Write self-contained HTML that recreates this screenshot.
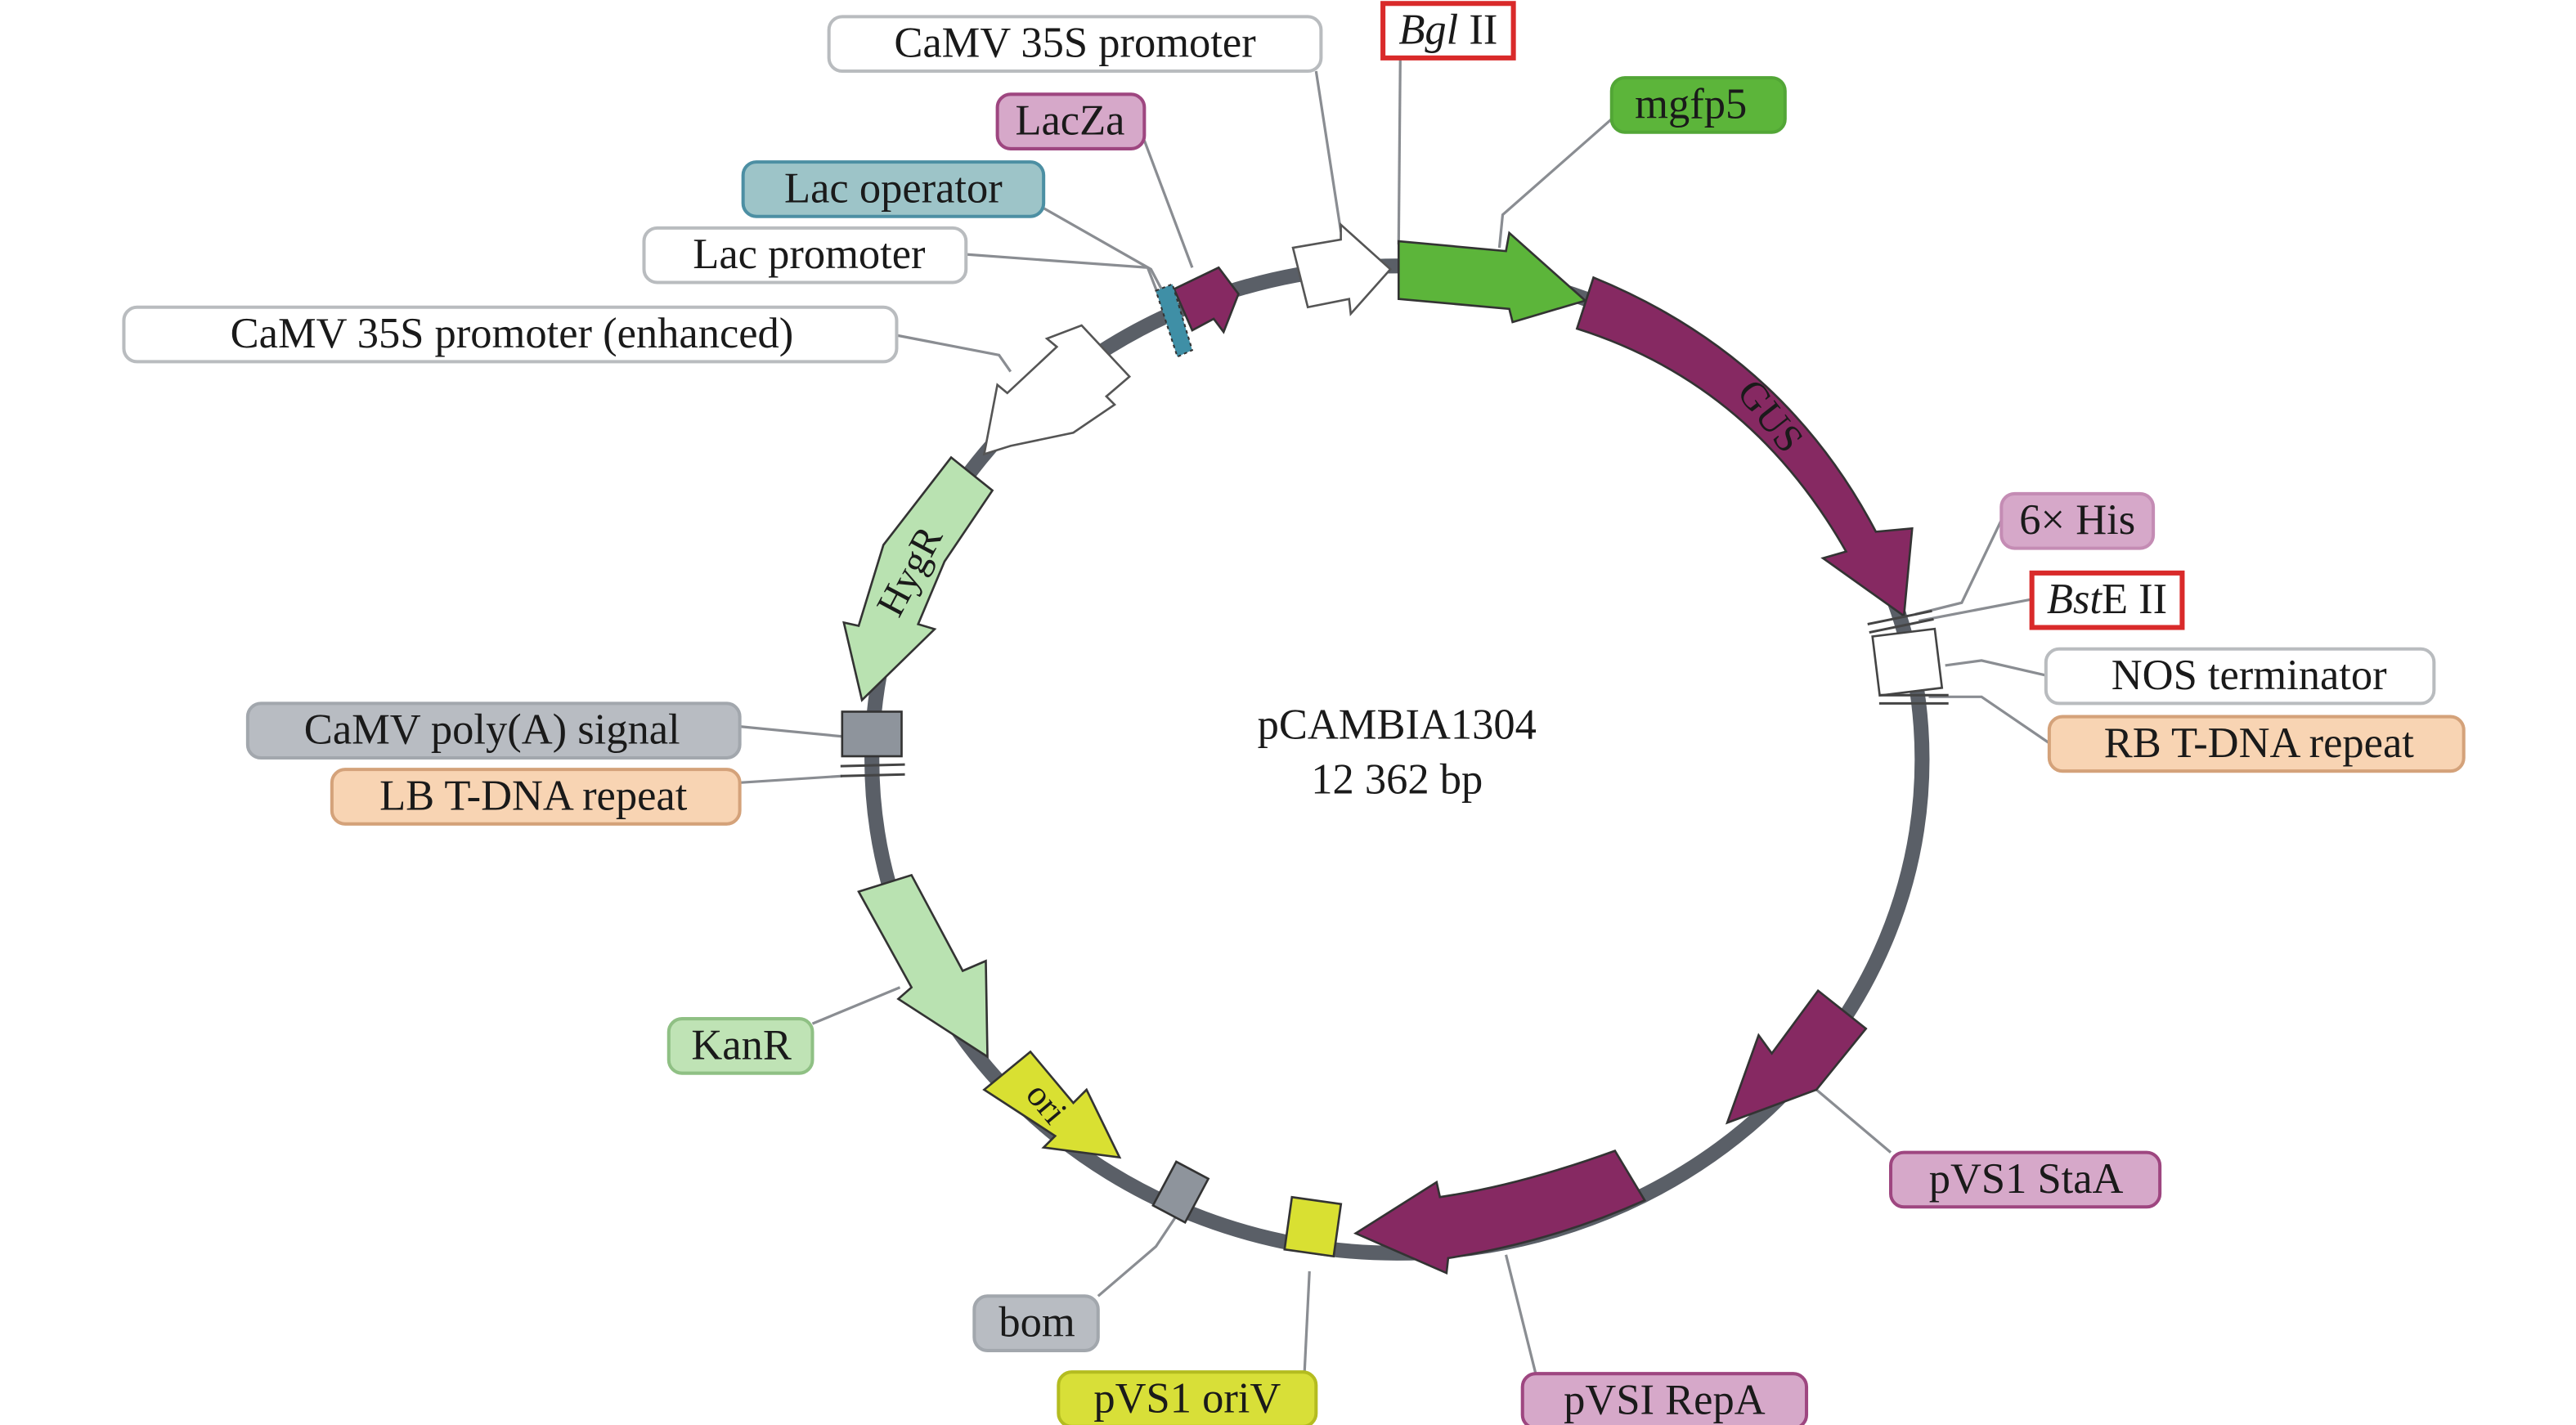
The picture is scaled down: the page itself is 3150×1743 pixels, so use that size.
<!DOCTYPE html>
<html><head><meta charset="utf-8"><style>
html,body{margin:0;padding:0;background:#fff;}
svg{display:block;}
text{font-family:"Liberation Serif",serif;fill:#1a1a1a;}
.lb{font-size:26px;text-anchor:middle;dominant-baseline:central;}
.ln{stroke:#8a8d92;stroke-width:1.6;fill:none;}
.ft{stroke:#333;stroke-width:1.3;stroke-linejoin:miter;}
</style></head><body>
<svg width="3150" height="1743" viewBox="0 0 1560 863" xmlns="http://www.w3.org/2000/svg">
<polyline class="ln" points="797,43 812,140 818,150"/>
<polyline class="ln" points="848,35 847,148"/>
<polyline class="ln" points="976,72 910,130 908,150"/>
<polyline class="ln" points="693,85 722,162"/>
<polyline class="ln" points="632,126 697,163 706,180"/>
<polyline class="ln" points="585,154 695,162 702,180"/>
<polyline class="ln" points="543,203 605,215 612,225"/>
<polyline class="ln" points="1212,315 1188,365 1160,372"/>
<polyline class="ln" points="1230,363 1162,376"/>
<polyline class="ln" points="1239,409 1200,400 1178,403"/>
<polyline class="ln" points="1241,450 1200,422 1168,422"/>
<polyline class="ln" points="448,440 510,446"/>
<polyline class="ln" points="448,474 510,470"/>
<polyline class="ln" points="492,620 545,598"/>
<polyline class="ln" points="1145,698 1100,660"/>
<polyline class="ln" points="665,785 700,755 712,737"/>
<polyline class="ln" points="790,831 793,770"/>
<polyline class="ln" points="930,832 912,760"/>

<ellipse cx="846" cy="460" rx="318" ry="299" fill="none" stroke="#5a5f67" stroke-width="9"/>

<polygon class="ft" fill="#5cb53a" points="847,146 912,152 914,141 960,182 916,195 914,187 847,181"/>
<path class="ft" fill="#862962" d="M965,168 Q1080,215 1136,322 L1158,320 L1153,373 L1104,338 L1118,334 Q1060,232 955,199 Z"/>
<text x="1072" y="252" font-size="24" text-anchor="middle" dominant-baseline="central" transform="rotate(52 1072 252)">GUS</text>
<polygon fill="#fff" stroke="#555" stroke-width="1.3" points="783,150 812,145 812,136 842,163 818,190 817,181 792,186"/>
<polygon class="ft" fill="#862962" points="711,175 738,162 750,178 741,201 735,193 722,200"/>
<polygon fill="#3f8fa6" stroke="#333" stroke-width="1" stroke-dasharray="2,2" points="700,176 710,172 722,212 713,216"/>
<polygon fill="#fff" stroke="#555" stroke-width="1.3" points="655,197 684,228 670,240 675,245 650,262 612,270 596,275 604,233 610,238 640,210 634,205"/>
<polygon class="ft" fill="#b9e2b1" points="576,277 601,297 572,340 556,378 566,381 522,424 511,377 520,379 535,330"/>
<text x="551" y="346" font-size="24" text-anchor="middle" dominant-baseline="central" transform="rotate(-62 551 346)">HygR</text>
<rect x="510" y="431" width="36" height="27" fill="#8e949c" stroke="#333" stroke-width="1.3"/>
<line x1="509" y1="464" x2="548" y2="463" stroke="#444" stroke-width="1.5"/>
<line x1="509" y1="470" x2="548" y2="469" stroke="#444" stroke-width="1.5"/>
<polygon class="ft" fill="#b9e2b1" points="520,540 552,530 583,588 597,582 598,640 544,605 552,598"/>
<polygon class="ft" fill="#d9e032" points="596,660 624,637 650,668 658,660 678,701 632,695 639,688"/>
<text x="634" y="668" font-size="22" text-anchor="middle" dominant-baseline="central" transform="rotate(50 634 668)">ori</text>
<rect x="704" y="707" width="22" height="30" fill="#8e949c" stroke="#333" stroke-width="1.3" transform="rotate(28 715 722)"/>
<rect x="780" y="727" width="30" height="32" fill="#d9e032" stroke="#333" stroke-width="1.3" transform="rotate(8 795 743)"/>
<path class="ft" fill="#862962" d="M978,697 Q920,718 872,725 L870,716 L821,747 L876,771 L877,762 Q940,752 996,727 Z"/>
<polygon class="ft" fill="#862962" points="1101,600 1130,623 1100,660 1046,680 1065,627 1073,638"/>
<line x1="1131" y1="378" x2="1170" y2="370" stroke="#444" stroke-width="1.5"/>
<line x1="1132" y1="383" x2="1171" y2="375" stroke="#444" stroke-width="1.5"/>
<rect x="1136" y="383" width="38" height="36" fill="#fff" stroke="#444" stroke-width="1.3" transform="rotate(-7 1155 401)"/>
<line x1="1138" y1="421" x2="1180" y2="421" stroke="#444" stroke-width="1.5"/>
<line x1="1138" y1="426" x2="1180" y2="426" stroke="#444" stroke-width="1.5"/>

<rect x="502" y="10" width="298" height="33" rx="8" fill="#fff" stroke="#b9bcbf" stroke-width="2"/>
<text class="lb" x="651" y="26">CaMV 35S promoter</text>
<rect x="837.5" y="2" width="79" height="33" fill="#fff" stroke="#d92a2a" stroke-width="3"/>
<text class="lb" x="877" y="18"><tspan font-style="italic">Bgl</tspan> II</text>
<rect x="976" y="47" width="105" height="33" rx="8" fill="#5cb53a" stroke="#52a636" stroke-width="2"/>
<text class="lb" x="1024" y="63">mgfp5</text>
<rect x="604" y="57" width="89" height="33" rx="8" fill="#d6a8c9" stroke="#9e4680" stroke-width="2"/>
<text class="lb" x="648" y="73">LacZa</text>
<rect x="450" y="98" width="182" height="33" rx="8" fill="#9dc4c8" stroke="#4c8fa3" stroke-width="2"/>
<text class="lb" x="541" y="114">Lac operator</text>
<rect x="390" y="138" width="195" height="33" rx="8" fill="#fff" stroke="#b9bcbf" stroke-width="2"/>
<text class="lb" x="490" y="154">Lac promoter</text>
<rect x="75" y="186" width="468" height="33" rx="8" fill="#fff" stroke="#b9bcbf" stroke-width="2"/>
<text class="lb" x="310" y="202">CaMV 35S promoter (enhanced)</text>
<rect x="1212" y="299" width="92" height="33" rx="8" fill="#d6a8c9" stroke="#c48cb4" stroke-width="2"/>
<text class="lb" x="1258" y="315">6× His</text>
<rect x="1230.5" y="347" width="91" height="33" fill="#fff" stroke="#d92a2a" stroke-width="3"/>
<text class="lb" x="1276" y="363"><tspan font-style="italic">Bst</tspan>E II</text>
<rect x="1239" y="393" width="235" height="33" rx="8" fill="#fff" stroke="#b9bcbf" stroke-width="2"/>
<text class="lb" x="1362" y="409">NOS terminator</text>
<rect x="1241" y="434" width="251" height="33" rx="8" fill="#f8d4b3" stroke="#d4a27a" stroke-width="2"/>
<text class="lb" x="1368" y="450">RB T-DNA repeat</text>
<rect x="150" y="426" width="298" height="33" rx="8" fill="#b8bcc2" stroke="#a2a7ad" stroke-width="2"/>
<text class="lb" x="298" y="442">CaMV poly(A) signal</text>
<rect x="201" y="466" width="247" height="33" rx="8" fill="#f8d4b3" stroke="#d4a27a" stroke-width="2"/>
<text class="lb" x="323" y="482">LB T-DNA repeat</text>
<rect x="405" y="617" width="87" height="33" rx="8" fill="#bfe3b5" stroke="#8fc084" stroke-width="2"/>
<text class="lb" x="449" y="633">KanR</text>
<rect x="1145" y="698" width="163" height="33" rx="8" fill="#d6a8c9" stroke="#9e4680" stroke-width="2"/>
<text class="lb" x="1227" y="714">pVS1 StaA</text>
<rect x="590" y="785" width="75" height="33" rx="8" fill="#b8bcc2" stroke="#a2a7ad" stroke-width="2"/>
<text class="lb" x="628" y="801">bom</text>
<rect x="641" y="831" width="156" height="33" rx="8" fill="#d8df38" stroke="#b4bc20" stroke-width="2"/>
<text class="lb" x="719" y="847">pVS1 oriV</text>
<rect x="922" y="832" width="172" height="33" rx="8" fill="#d6a8c9" stroke="#9e4680" stroke-width="2"/>
<text class="lb" x="1008" y="848">pVSI RepA</text>

<text class="lb" x="846" y="439">pCAMBIA1304</text>
<text class="lb" x="846" y="472">12 362 bp</text>
</svg>
</body></html>
